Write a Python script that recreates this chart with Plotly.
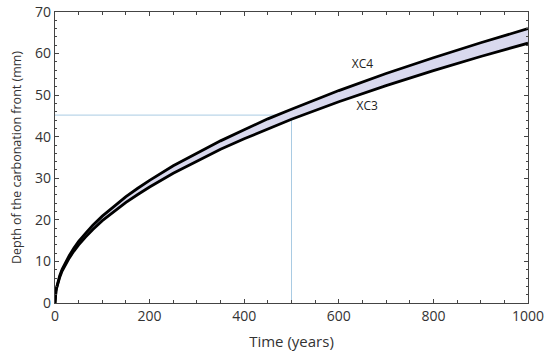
import plotly.graph_objects as go

time_years = [0, 0.5, 1, 2, 3, 5, 7.5, 10, 15, 20, 30, 40, 50, 65, 80, 100, 125, 150, 175, 200,
              250, 300, 350, 400, 450, 500, 600, 700, 800, 900, 1000]
depth_xc4 = [0, 1.5, 2.1, 2.95, 3.6, 4.7, 5.7, 6.6, 8.1, 9.3, 11.4, 13.2, 14.8, 16.8, 18.7, 20.9,
             23.3, 25.6, 27.6, 29.5, 33.0, 36.1, 39.0, 41.7, 44.3, 46.6, 51.1, 55.2, 59.0, 62.6, 66.0]
depth_xc3 = [0, 1.4, 2.0, 2.8, 3.4, 4.4, 5.4, 6.2, 7.7, 8.8, 10.8, 12.5, 14.0, 15.9, 17.7, 19.8,
             22.1, 24.2, 26.1, 27.9, 31.2, 34.2, 37.0, 39.5, 41.9, 44.2, 48.4, 52.3, 55.9, 59.3, 62.5]

guide_time = [0, 500, 500]
guide_depth = [45.2, 45.2, 0]

labels = ["XC4", "XC3"]
label_time = [650, 660]
label_depth = [57.3, 47.2]

FONT = "Open Sans"

fig = go.Figure()
fig.add_trace(go.Scatter(x=guide_time, y=guide_depth, mode="lines",
                         line=dict(color="#a9cbe3", width=1), showlegend=False, hoverinfo="skip"))
fig.add_trace(go.Scatter(x=time_years, y=depth_xc3, mode="lines",
                         line=dict(color="black", width=2.8), showlegend=False))
fig.add_trace(go.Scatter(x=time_years, y=depth_xc4, mode="lines", fill="tonexty",
                         fillcolor="#d9d9ee", line=dict(color="black", width=2.8),
                         showlegend=False))
fig.add_trace(go.Scatter(x=label_time, y=label_depth, mode="text", text=labels,
                         textfont=dict(family=FONT, size=12, color="#222"), showlegend=False))

axis_common = dict(showgrid=False, zeroline=False, showline=True, linecolor="#444", linewidth=1.2,
                   mirror="ticks", ticks="inside", ticklen=4, tickcolor="#444", automargin=False,
                   tickfont=dict(family=FONT, size=14, color="#333"))

fig.update_xaxes(range=[0, 1000], dtick=200, title=dict(text="Time (years)",
                 font=dict(family=FONT, size=15, color="#333"), standoff=12),
                 minor=dict(dtick=50, ticks="inside", ticklen=3, tickcolor="#444"), **axis_common)
fig.update_yaxes(range=[0, 70], dtick=10, title=dict(text="Depth of the carbonation front (mm)",
                 font=dict(family=FONT, size=12.5, color="#333"), standoff=10),
                 minor=dict(dtick=2, ticks="inside", ticklen=2, tickcolor="#444"), **axis_common)

fig.update_layout(width=550, height=358, margin=dict(l=55, r=22, t=12, b=55),
                  plot_bgcolor="white", paper_bgcolor="white")
fig.write_html("out.html", config={"displayModeBar": False},
               post_script="document.body.style.margin='0';")
